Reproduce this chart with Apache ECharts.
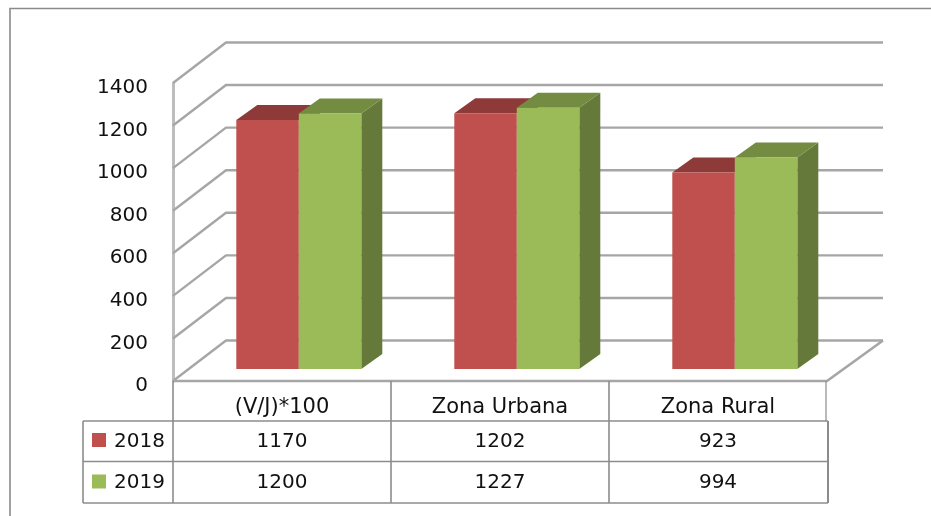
<!DOCTYPE html>
<html><head><meta charset="utf-8">
<style>html,body{margin:0;padding:0;background:#fff}#c{width:931px;height:516px}</style>
<script src="https://cdn.jsdelivr.net/npm/echarts@6/dist/echarts.min.js"></script></head>
<body><div id="c"></div><script>
const categories = ['(V/J)*100', 'Zona Urbana', 'Zona Rural'];
const seriesNames = ['2018', '2019'];
const values2018 = [1170, 1202, 923];
const values2019 = [1200, 1227, 994];
const yTicks = [0, 200, 400, 600, 800, 1000, 1200, 1400];

const FONT = '"DejaVu Sans"';
const FS = 20;
const FS_CAT = 21;
const TEXT = '#111';
const GRID = '#a6a6a6';
const TBL = '#8c8c8c';
const palette = [
  { front: '#C0504D', top: '#8E3A38', side: '#7F3533' },
  { front: '#9BBB59', top: '#748C42', side: '#657A3A' }
];
const wallDx = 53, wallDxRight = 56, wallDy = -40.5;   // depth of the chart box
const barDx = 21, barDy = -15;     // depth of a bar
const barW = 62.5, barShift = 16.8, barLift = 12;
const rowY = [441.5, 483];         // table row text centres
const rowLines = [421, 461.5, 503];
const tableLeft = 83, keyX = 92, keySize = 14, nameX = 114;

const chart = echarts.init(document.getElementById('c'), null, { renderer: 'canvas' });

function line(pts, color, w) {
  return { type: 'polyline', shape: { points: pts }, silent: true,
    style: { stroke: color, lineWidth: w, fill: null, lineJoin: 'miter' } };
}

function renderGrid(params, api) {
  const cs = params.coordSys;
  const y = api.coord([0, api.value(0)])[1];
  const l = cs.x, r = cs.x + cs.width;
  const kids = [line([[l, y], [l + wallDx, y + wallDy], [r + wallDxRight, y + wallDy]], GRID, 2.4)];
  if (api.value(0) === 0) {
    kids.push(line([[l, y], [r, y], [r + wallDxRight, y + wallDy]], GRID, 2.6));
  }
  return { type: 'group', children: kids };
}

function barRenderer(si) {
  return function (params, api) {
    const c = api.coord([api.value(0), api.value(1)]);
    const base = api.coord([api.value(0), 0])[1] - barLift;
    const top = c[1] - barLift;
    const x0 = c[0] + barShift + (si - 1) * barW, x1 = x0 + barW;
    const col = palette[si];
    return { type: 'group', children: [
      { type: 'polygon', shape: { points: [[x1, top], [x1 + barDx, top + barDy], [x1 + barDx, base + barDy], [x1, base]] }, style: { fill: col.side } },
      { type: 'polygon', shape: { points: [[x0, top], [x0 + barDx, top + barDy], [x1 + barDx, top + barDy], [x1, top]] }, style: { fill: col.top } },
      { type: 'rect', shape: { x: x0, y: top, width: barW, height: base - top }, style: { fill: col.front } }
    ] };
  };
}

function cellRenderer(row) {
  return function (params, api) {
    const x = api.coord([api.value(0), 0])[0];
    return { type: 'text', silent: true, style: { x: x, y: rowY[row], text: String(api.value(1)),
      textAlign: 'center', textVerticalAlign: 'middle', font: FS + 'px ' + FONT, fill: TEXT } };
  };
}

function renderTableFrame(params, api) {
  const cs = params.coordSys;
  const top = cs.y + cs.height;
  const l = cs.x, r = cs.x + cs.width;
  const band = cs.width / categories.length;
  const kids = [];
  rowLines.forEach(y => kids.push(line([[tableLeft, y], [r + 1, y]], TBL, 1.6)));
  kids.push(line([[tableLeft, rowLines[0]], [tableLeft, rowLines[2]]], TBL, 1.6));
  for (let i = 0; i <= categories.length; i++) {
    const x = l + band * i;
    if (i === categories.length) {
      kids.push(line([[x - 1, top], [x - 1, rowLines[0]]], TBL, 1.2));
      kids.push(line([[x + 1, rowLines[0]], [x + 1, rowLines[2]]], TBL, 2));
    } else {
      kids.push(line([[x, top], [x, rowLines[2]]], TBL, 1.6));
    }
  }
  seriesNames.forEach((n, i) => {
    kids.push({ type: 'rect', shape: { x: keyX, y: rowY[i] - keySize / 2 - 1.5, width: keySize, height: keySize }, style: { fill: palette[i].front } });
    kids.push({ type: 'text', style: { x: nameX, y: rowY[i], text: n, textAlign: 'left', textVerticalAlign: 'middle', font: FS + 'px ' + FONT, fill: TEXT } });
  });
  return { type: 'group', children: kids };
}

chart.setOption({
  animation: false,
  backgroundColor: '#fff',
  grid: { left: 173, top: 83, width: 654, height: 298, containLabel: false },
  xAxis: { type: 'category', data: categories,
    axisLine: { show: false }, axisTick: { show: false }, splitLine: { show: false },
    axisLabel: { margin: 16, color: TEXT, fontFamily: FONT, fontSize: FS_CAT, interval: 0 } },
  yAxis: { type: 'value', min: 0, max: 1400, interval: 200,
    axisLine: { show: true, lineStyle: { color: '#bdbdbd', width: 3 } }, axisTick: { show: false }, splitLine: { show: false },
    axisLabel: { margin: 25, color: TEXT, fontFamily: FONT, fontSize: FS, verticalAlign: 'top', lineHeight: 10, formatter: v => String(v) } },
  graphic: [
    { type: 'polyline', silent: true, shape: { points: [[10, 520], [10, 8.5], [935, 8.5]] },
      style: { stroke: '#8a8a8a', lineWidth: 1.6, fill: null } }
  ],
  series: [
    { type: 'custom', name: 'grid', silent: true, z: 1, data: yTicks.map(v => [v]), encode: { y: 0 }, renderItem: renderGrid },
    { type: 'custom', name: seriesNames[0], z: 2, data: values2018.map((v, i) => [i, v]), renderItem: barRenderer(0) },
    { type: 'custom', name: seriesNames[1], z: 3, data: values2019.map((v, i) => [i, v]), renderItem: barRenderer(1) },
    { type: 'custom', name: 'frame', silent: true, z: 4, data: [[0, 0]], renderItem: renderTableFrame },
    { type: 'custom', name: 'row2018', silent: true, z: 5, data: values2018.map((v, i) => [i, v]), renderItem: cellRenderer(0) },
    { type: 'custom', name: 'row2019', silent: true, z: 5, data: values2019.map((v, i) => [i, v]), renderItem: cellRenderer(1) }
  ]
});
</script></body></html>
